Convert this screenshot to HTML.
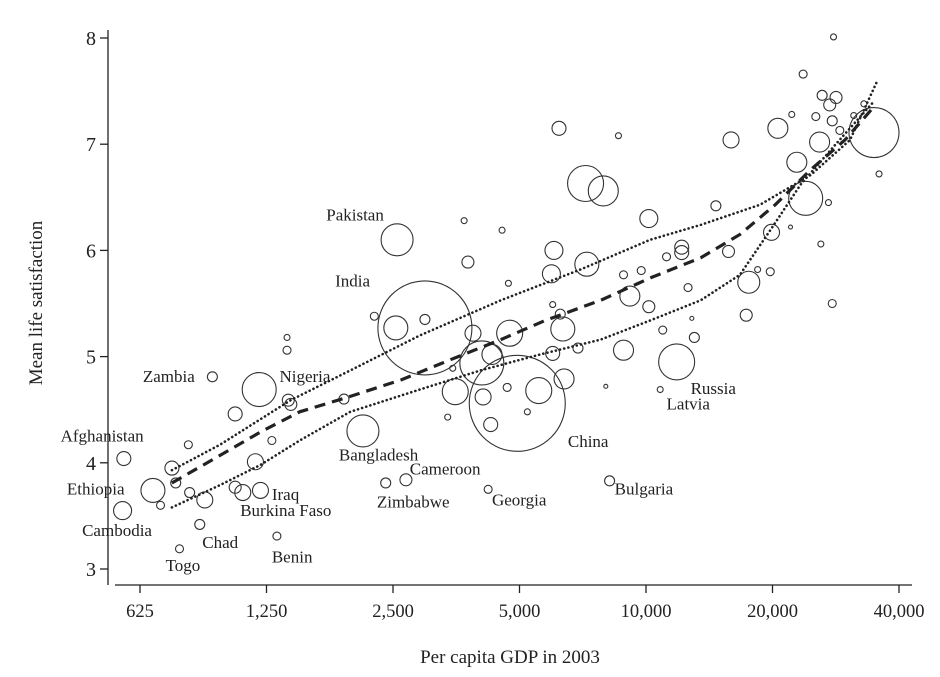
<!DOCTYPE html>
<html><head><meta charset="utf-8"><style>
html,body{margin:0;padding:0;background:#fff}
svg{display:block}
text{font-family:"Liberation Serif",serif;fill:#222}
</style></head><body>
<svg id="chart" width="940" height="677">
<g id="axes"></g>
<g id="bubbles"></g>
<g id="lines"></g>
<g id="labels"></g>
<text x="510" y="663" text-anchor="middle" font-size="19">Per capita GDP in 2003</text>
<text transform="translate(42,303) rotate(-90)" text-anchor="middle" font-size="19">Mean life satisfaction</text>
</svg>
<script>
// log2 of per-capita GDP
const logGdp = [9.86,10.23,10.48,10.46,10.04,9.67,9.16,9.54,9.57,9.39,9.45,9.15,9.68,9.80,10.04,10.10,10.24,9.76,9.60,10.37,10.20,10.33,10.90,11.05,11.23,11.39,10.45,10.45,11.32,11.54,11.31,11.14,12.27,12.04,13.00,12.60,13.07,12.81,12.95,11.85,12.15,12.56,11.88,12.82,12.54,12.20,13.31,13.84,13.96,14.33,14.44,15.09,15.13,14.48,14.55,14.73,14.66,14.28,14.43,14.67,13.57,13.57,13.45,13.25,13.11,13.94,14.10,14.17,14.27,14.76,13.16,13.31,12.55,12.61,12.63,12.21,11.92,11.54,13.62,14.08,13.65,13.42,13.67,13.11,13.53,12.97,13.40,12.55,12.75,11.99,12.07,11.78,12.44,12.64,12.19,12.00,12.35,11.72,12.06,11.76,14.77,14.53,14.68,14.79,14.74,15.01,14.63,14.76,14.82,14.93];
const satisfaction = [4.81,4.69,4.55,4.59,4.46,4.17,4.04,3.95,3.81,3.74,3.60,3.55,3.72,3.65,3.77,3.72,3.74,3.42,3.19,3.31,4.01,4.21,4.60,4.30,3.81,3.84,5.18,5.06,6.10,5.27,5.27,5.38,4.56,3.75,3.83,7.15,7.08,6.63,6.56,6.28,6.19,6.00,5.89,5.87,5.78,5.69,6.30,6.42,7.04,7.15,7.28,7.11,6.72,6.83,6.49,6.45,7.02,6.17,6.22,6.06,6.03,5.98,5.94,5.81,5.77,5.99,5.70,5.82,5.80,5.50,5.57,5.47,5.49,5.40,5.26,5.22,5.22,5.35,5.65,5.39,5.36,5.25,5.18,5.06,4.95,4.72,4.69,5.03,5.08,4.94,5.02,4.67,4.68,4.79,4.71,4.62,4.48,4.43,4.36,4.89,8.01,7.66,7.46,7.44,7.37,7.38,7.26,7.22,7.13,7.27];
// relative population (bubble radius units)
const popSize = [5,17,6,6,7,4,7,7,5,12,4,9,5,8,6,8,8,5,4,4,8,4,5,16,5,6,3,4,16,47,12,4,48,4,5,7,3,18,15,3,3,9,6,12,9,3,9,5,8,10,3,25,3,10,17,3,10,8,2,3,7,7,4,4,4,6,11,3,4,4,10,6,3,5,12,13,8,5,4,6,2,4,5,10,18,2,3,7,5,22,10,13,13,10,4,8,3,3,7,3,3,4,5,6,6,3,4,5,4,3];
const fitLog = [9.54,9.92,10.24,10.55,10.91,11.35,11.74,12.14,12.49,12.93,13.32,13.72,14.03,14.31,14.59,14.86,15.08];
const fitSat = [3.81,4.07,4.29,4.48,4.61,4.78,4.97,5.16,5.34,5.53,5.74,5.93,6.15,6.43,6.76,7.04,7.34];
const upLog = [9.54,9.92,10.48,10.95,11.50,12.14,12.77,13.32,13.72,14.19,14.59,14.90,15.11];
const upSat = [3.93,4.17,4.59,4.87,5.20,5.53,5.82,6.10,6.24,6.43,6.71,7.04,7.58];
const loLog = [9.54,9.92,10.24,10.55,10.95,11.50,11.98,12.45,12.93,13.32,13.72,14.03,14.27,14.51,14.78,15.08];
const loSat = [3.58,3.79,3.98,4.21,4.48,4.69,4.87,5.02,5.16,5.34,5.53,5.77,6.19,6.62,6.99,7.39];
const xTicks = [625,1250,2500,5000,10000,20000,40000];
const xTickLabels = ["625","1,250","2,500","5,000","10,000","20,000","40,000"];
const yTicks = [3,4,5,6,7,8];
const countries = ["Pakistan","India","Zambia","Nigeria","Afghanistan","Ethiopia","Cambodia","Chad","Togo","Benin","Iraq","Burkina Faso","Bangladesh","Cameroon","Zimbabwe","Georgia","China","Bulgaria","Russia","Latvia"];
const labelLog = [10.76,10.83,9.31,10.39,8.66,8.71,8.83,9.78,9.49,10.33,10.33,10.08,10.86,11.42,11.16,12.07,12.67,13.04,13.64,13.45];
const labelSat = [6.28,5.66,4.76,4.76,4.20,3.70,3.31,3.20,2.98,3.06,3.65,3.50,4.02,3.89,3.58,3.60,4.15,3.70,4.65,4.50];

const NS="http://www.w3.org/2000/svg";
const X0=140, XS=126.5, L0=Math.log2(625);
const xL = l => X0 + (l - L0)*XS;
const xG = g => xL(Math.log2(g));
const y = s => 569 - (s-3)*106.2;
function mk(tag, parent, attrs){const e=document.createElementNS(NS,tag);for(const k in attrs)e.setAttribute(k,attrs[k]);parent.appendChild(e);return e;}
const ax=document.getElementById('axes');
let e=mk('line',ax,{x1:108,y1:30,x2:108,y2:585,stroke:'#222','stroke-width':1.3});


e=mk('line',ax,{x1:115,y1:585,x2:912,y2:585,stroke:'#222','stroke-width':1.3});


yTicks.forEach(t=>{
  const tk=mk('line',ax,{x1:100,x2:108,y1:y(t),y2:y(t),stroke:'#222','stroke-width':1.3});
  
  
  const tx=mk('text',ax,{x:96,y:y(t)+7,'text-anchor':'end','font-size':20});
  tx.textContent=t;
  
  
});
xTicks.forEach((t,i)=>{
  const tk=mk('line',ax,{x1:xG(t),x2:xG(t),y1:585,y2:593,stroke:'#222','stroke-width':1.3});
  
  
  const tx=mk('text',ax,{x:xG(t),y:617,'text-anchor':'middle','font-size':18.5});
  tx.textContent=xTickLabels[i];
  
  
});
const bg=document.getElementById('bubbles');
logGdp.forEach((l,i)=>{
  const c=mk('circle',bg,{cx:xL(l),cy:y(satisfaction[i]),r:popSize[i],fill:'none',stroke:'#333','stroke-width':1.1});
  
  
});
const lg=document.getElementById('lines');
function path(ls,ss){return ls.map((l,i)=>(i?'L':'M')+xL(l).toFixed(1)+','+y(ss[i]).toFixed(1)).join(' ');}
e=mk('path',lg,{d:path(fitLog,fitSat),fill:'none',stroke:'#222','stroke-width':3.2,'stroke-dasharray':'11,7'});


e=mk('path',lg,{d:path(upLog,upSat),fill:'none',stroke:'#222','stroke-width':2.6,'stroke-dasharray':'0.1,4.2','stroke-linecap':'round'});


e=mk('path',lg,{d:path(loLog,loSat),fill:'none',stroke:'#222','stroke-width':2.6,'stroke-dasharray':'0.1,4.2','stroke-linecap':'round'});


const lb=document.getElementById('labels');
countries.forEach((c,i)=>{
  const t=mk('text',lb,{x:xL(labelLog[i]),y:y(labelSat[i]),'font-size':17});
  t.textContent=c;
  
  
});
</script>
</body></html>
